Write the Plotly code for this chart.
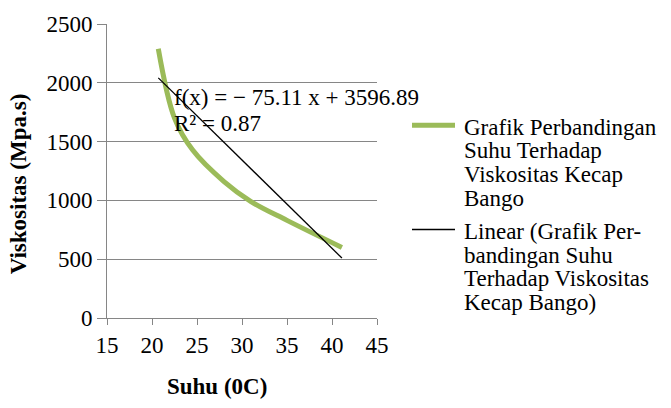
import plotly.graph_objects as go

# ---- data ----
suhu = [20.7, 22.5, 24.5, 28.0, 31.0, 35.0, 41.1]
viskositas = [2290, 1700, 1430, 1160, 990, 830, 600]
trend_slope = -75.11
trend_intercept = 3596.89
trend_r2 = 0.87
x_ticks = [15, 20, 25, 30, 35, 40, 45]
y_ticks = [0, 500, 1000, 1500, 2000, 2500]
series_name = ["Grafik Perbandingan", "Suhu Terhadap", "Viskositas Kecap", "Bango"]
trend_name = ["Linear (Grafik Per-", "bandingan Suhu", "Terhadap Viskositas", "Kecap Bango)"]
x_title = "Suhu (0C)"
y_title = "Viskositas (Mpa.s)"

# ---- styling ----
FONT = "Liberation Serif"
FS = 23
GREEN = "#9BBB59"
GRAY = "#868686"
W, H = 671, 408
L, R, T, B = 107, 294, 19, 90
PW, PH = W - L - R, H - T - B


def px_x(p):
    return (p - L) / PW


def px_y(p):
    return (H - B - p) / PH


trend_x = [min(suhu), max(suhu)]
trend_y = [trend_slope * x + trend_intercept for x in trend_x]

fig = go.Figure()
fig.add_trace(go.Scatter(
    x=suhu, y=viskositas, mode="lines",
    line=dict(color=GREEN, width=5, shape="spline", smoothing=1.0),
    name=" ".join(series_name), showlegend=False, hoverinfo="skip"))
fig.add_trace(go.Scatter(
    x=trend_x, y=trend_y, mode="lines",
    line=dict(color="black", width=1.3),
    name=" ".join(trend_name), showlegend=False, hoverinfo="skip"))

ann = []
# trendline equation
eq1 = f"f(x) = \u2212 {abs(trend_slope):.2f} x + {trend_intercept:.2f}"
eq2 = f"R\u00b2 = {trend_r2:.2f}"
ann.append(dict(text=eq1, xref="paper", yref="paper", x=px_x(172), y=px_y(94),
                xanchor="left", yanchor="middle", showarrow=False,
                font=dict(family=FONT, size=FS, color="black")))
ann.append(dict(text=eq2, xref="paper", yref="paper", x=px_x(172), y=px_y(120),
                xanchor="left", yanchor="middle", showarrow=False,
                font=dict(family=FONT, size=FS, color="black")))
# axis titles
ann.append(dict(text=f"<b>{x_title}</b>", xref="paper", yref="paper", x=px_x(217), y=px_y(388),
                xanchor="center", yanchor="middle", showarrow=False,
                font=dict(family=FONT, size=FS, color="black")))
ann.append(dict(text=f"<b>{y_title}</b>", xref="paper", yref="paper", x=px_x(18), y=px_y(182),
                xanchor="center", yanchor="middle", showarrow=False, textangle=-90,
                font=dict(family=FONT, size=FS, color="black")))
# legend text
leg_lines = series_name + trend_name
leg_centers = [124, 148, 172, 196, 230, 254, 278, 302]
for txt, cy in zip(leg_lines, leg_centers):
    ann.append(dict(text=txt, xref="paper", yref="paper", x=px_x(462), y=px_y(cy),
                    xanchor="left", yanchor="middle", showarrow=False,
                    font=dict(family=FONT, size=FS, color="black")))

shapes = [
    dict(type="line", xref="paper", yref="paper", x0=px_x(412), x1=px_x(455),
         y0=px_y(122), y1=px_y(122), line=dict(color=GREEN, width=5)),
    dict(type="line", xref="paper", yref="paper", x0=px_x(412), x1=px_x(455),
         y0=px_y(228), y1=px_y(228), line=dict(color="black", width=1.3)),
]

fig.update_layout(
    width=W, height=H,
    margin=dict(l=L, r=R, t=T, b=B, pad=0),
    paper_bgcolor="white", plot_bgcolor="white",
    font=dict(family=FONT, size=FS, color="black"),
    annotations=ann, shapes=shapes, showlegend=False,
    xaxis=dict(range=[15, 45], tickmode="array", tickvals=x_ticks,
               ticktext=[str(v) for v in x_ticks],
               showgrid=False, zeroline=False, showline=True, linecolor=GRAY, linewidth=1,
               ticks="outside", ticklen=6, tickcolor=GRAY,
               tickfont=dict(family=FONT, size=FS, color="black")),
    yaxis=dict(range=[0, 2500], tickmode="array", tickvals=y_ticks,
               ticktext=[str(v) for v in y_ticks],
               showgrid=True, gridcolor=GRAY, gridwidth=1, zeroline=False,
               showline=True, linecolor=GRAY, linewidth=1,
               ticks="outside", ticklen=9, tickcolor=GRAY,
               tickfont=dict(family=FONT, size=FS, color="black")),
)

fig.write_html("out.html")
